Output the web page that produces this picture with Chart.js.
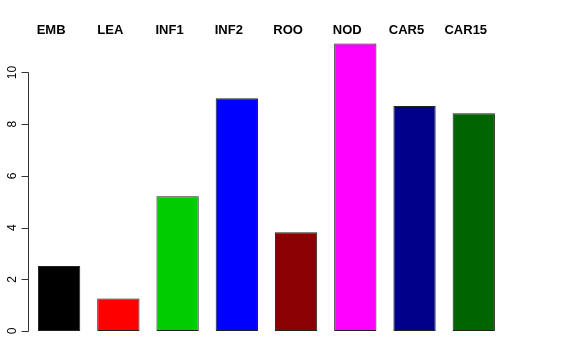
<!DOCTYPE html>
<html>
<head>
<meta charset="utf-8">
<script src="https://cdn.jsdelivr.net/npm/chart.js@4/dist/chart.umd.min.js"></script>
<style>
  html, body { margin: 0; padding: 0; background: #fff; }
  canvas { display: block; }
</style>
</head>
<body>
<canvas id="chart" width="576" height="360"></canvas>
<script>
// Data
const categories = ['EMB', 'LEA', 'INF1', 'INF2', 'ROO', 'NOD', 'CAR5', 'CAR15'];
const values = [2.51, 1.26, 5.21, 9.0, 3.82, 11.12, 8.70, 8.42];
const barColors = ['#000000', '#ff0000', '#00cd00', '#0000ff', '#8b0000', '#ff00ff', '#00008b', '#006400'];
const yTicks = [0, 2, 4, 6, 8, 10];

const FONT = 'Liberation Sans, Arial, Helvetica, sans-serif';

// R-style axis and top labels, drawn through the chart's scales
const rAxis = {
  id: 'rAxis',
  afterDraw(chart) {
    const ctx = chart.ctx;
    const x = chart.scales.x, y = chart.scales.y;
    const axisX = Math.floor(chart.chartArea.left) - 0.5;
    ctx.save();
    ctx.strokeStyle = '#333';
    ctx.lineWidth = 1;
    ctx.beginPath();
    ctx.moveTo(axisX, Math.round(y.getPixelForValue(yTicks[0])) + 0.5);
    ctx.lineTo(axisX, Math.round(y.getPixelForValue(yTicks[yTicks.length - 1])) + 0.5);
    for (const t of yTicks) {
      const py = Math.round(y.getPixelForValue(t)) + 0.5;
      ctx.moveTo(axisX, py);
      ctx.lineTo(axisX - 7, py);
    }
    ctx.stroke();

    ctx.fillStyle = '#000';
    ctx.font = '12px ' + FONT;
    ctx.textAlign = 'center';
    ctx.textBaseline = 'middle';
    for (const t of yTicks) {
      const py = y.getPixelForValue(t);
      ctx.save();
      ctx.translate(13, py);
      ctx.rotate(-Math.PI / 2);
      ctx.fillText(String(t), 0, 0);
      ctx.restore();
    }

    ctx.font = 'bold 13px ' + FONT;
    ctx.textBaseline = 'middle';
    categories.forEach((c, i) => {
      ctx.fillText(c, x.getPixelForValue(i) - 8, 30);
    });
    ctx.restore();
  }
};

new Chart(document.getElementById('chart'), {
  type: 'bar',
  data: {
    labels: categories,
    datasets: [{
      data: values,
      backgroundColor: barColors,
      borderColor: '#222',
      borderWidth: 1,
      borderSkipped: false,
      barPercentage: 0.714,
      categoryPercentage: 1
    }]
  },
  options: {
    responsive: false,
    animation: false,
    layout: { padding: { left: 29.5, right: 72.6, top: 36.3, bottom: 29 } },
    plugins: { legend: { display: false }, tooltip: { enabled: false } },
    scales: {
      x: { display: false },
      y: { display: false, min: 0, max: 11.4 }
    }
  },
  plugins: [rAxis]
});
</script>
</body>
</html>
